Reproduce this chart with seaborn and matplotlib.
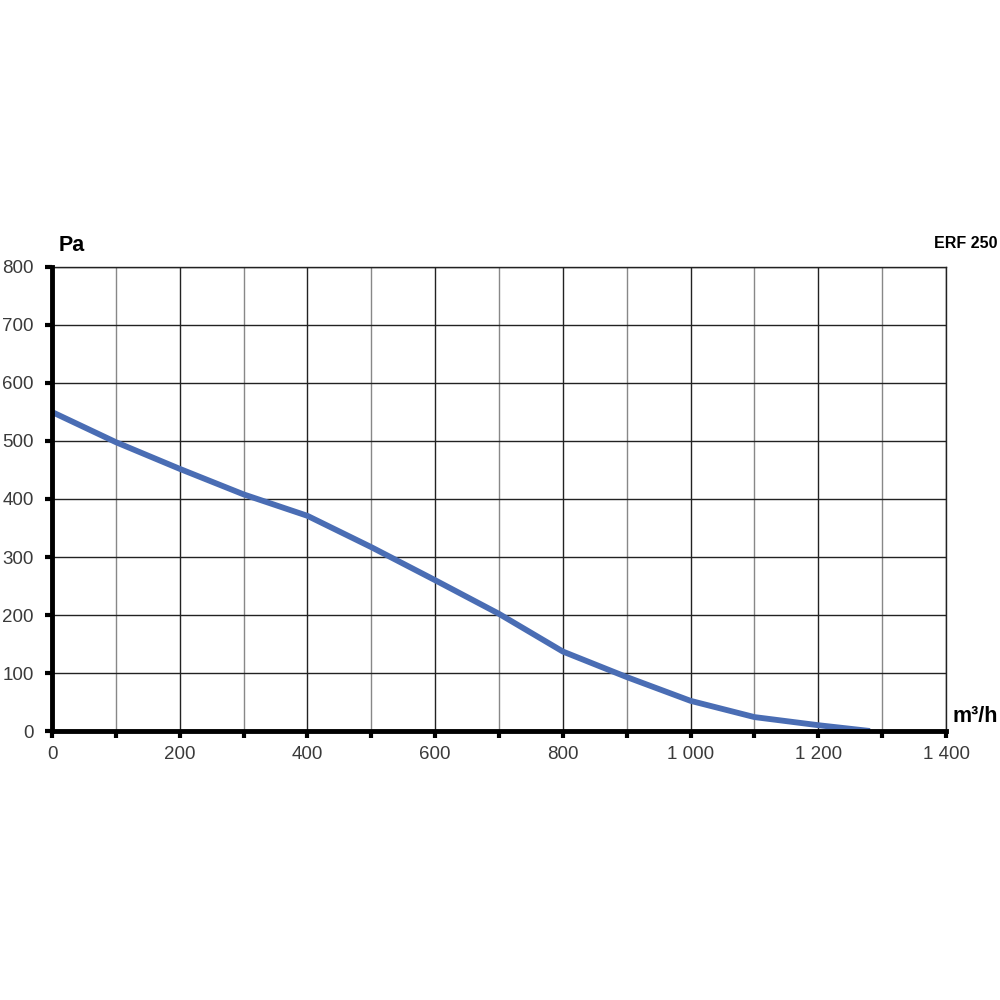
import numpy as np
import pandas as pd
import seaborn as sns
import matplotlib.pyplot as plt
from matplotlib.ticker import MultipleLocator, FuncFormatter

# curve
flow = [0, 100, 200, 300, 400, 500, 600, 700, 800, 900, 1000, 1100, 1200, 1281]
pressure = [550, 498, 452, 408, 371, 317, 260, 202, 137, 93, 52, 24, 10, 0]
model = 'ERF 250'
xunit = 'm³/h'
yunit = 'Pa'

sns.set_theme(style='white')
plt.rcParams['font.family'] = ['Liberation Sans', 'DejaVu Sans']

df = pd.DataFrame({'flow': flow, 'pressure': pressure})

fig = plt.figure(figsize=(10, 10), dpi=100)
ax = fig.add_axes([0.052, 0.269, 0.894, 0.464])

sns.lineplot(data=df, x='flow', y='pressure', ax=ax, color='#4a6db4',
             linewidth=4.2, solid_capstyle='butt', zorder=5)

ax.set_xlim(0, 1400)
ax.set_ylim(0, 800)
ax.xaxis.set_major_locator(MultipleLocator(200))
ax.xaxis.set_minor_locator(MultipleLocator(100))
ax.yaxis.set_major_locator(MultipleLocator(100))
ax.xaxis.set_major_formatter(FuncFormatter(lambda v, p: f'{int(v):,}'.replace(',', ' ')))

ax.grid(which='major', axis='both', color='#222222', linewidth=1.0)
ax.grid(which='minor', axis='x', color='#888888', linewidth=1.0)

for s in ['top', 'right']:
    ax.spines[s].set_color('#222222')
    ax.spines[s].set_linewidth(1.0)
for s in ['left', 'bottom']:
    ax.spines[s].set_color('black')
    ax.spines[s].set_linewidth(3.5)
    ax.spines[s].set_zorder(6)

ax.tick_params(axis='both', which='both', direction='out', color='black',
               width=3, length=5, labelsize=13.5, labelcolor='#3a3a3a')
ax.tick_params(axis='x', which='both', bottom=True, pad=6)
ax.tick_params(axis='y', left=True, pad=8)
ax.set_xlabel('')
ax.set_ylabel('')

fig.text(0.059, 0.744, yunit, fontsize=15.5, fontweight='bold', ha='left', va='bottom', color='black')
fig.text(0.998, 0.284, xunit, fontsize=15.5, fontweight='bold', ha='right', va='center', color='black')
fig.text(0.998, 0.757, model, fontsize=11.5, fontweight='bold', ha='right', va='center', color='black')

fig.savefig('out.png', dpi=100)
